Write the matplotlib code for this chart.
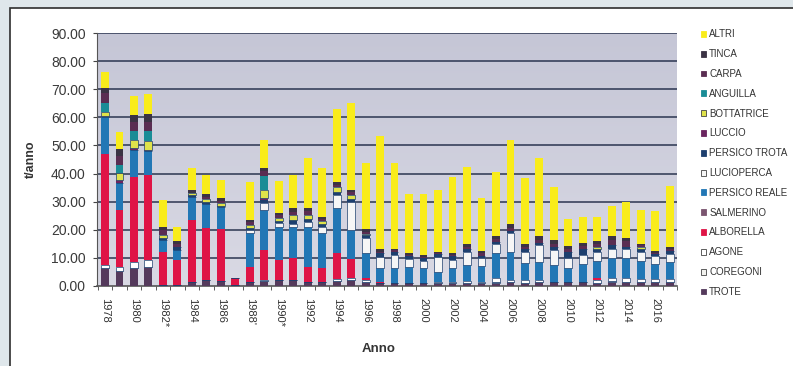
import numpy as np
import matplotlib
matplotlib.use("Agg")
import matplotlib.pyplot as plt
from matplotlib.patches import Patch, Rectangle
from matplotlib.colors import LinearSegmentedColormap

plt.rcParams["font.family"] = ["Liberation Sans", "DejaVu Sans"]

# pescato annuo per specie (t/anno), 1978-2017
years = list(range(1978, 2018))
year_labels = ["1978", "1980", "1982*", "1984", "1986", "1988'", "1990*", "1992",
               "1994", "1996", "1998", "2000", "2002", "2004", "2006", "2008",
               "2010", "2012", "2014", "2016"]

trote = [6.5, 5.5, 6.3, 6.8, 0.5, 0.5, 1.5, 2.0, 1.8, 0.5,
         1.5, 1.8, 2.0, 2.0, 1.5, 1.5, 1.8, 2.0, 1.5, 1.2,
         1.0, 1.2, 1.0, 1.0, 1.0, 1.2, 1.2, 1.0, 1.5, 1.2,
         1.5, 1.3, 1.5, 1.3, 1.2, 1.5, 1.5, 1.3, 1.3, 1.3]
coregoni = [0, 0, 0, 0, 0, 0, 0, 0, 0, 0,
            0, 0, 0, 0, 0, 0, 0, 0, 0, 0,
            0, 0, 0, 0, 0, 0, 0, 0.5, 0, 0,
            0, 0, 0, 0, 0, 0.3, 0, 0, 0, 0]
agone = [1.0, 1.4, 2.3, 2.3, 0, 0, 0, 0, 0, 0,
         0, 0.3, 0, 0, 0, 0, 0.7, 1.0, 0.5, 0,
         0, 0, 0, 0.3, 0.5, 0.6, 0.3, 1.5, 0.6, 0.8,
         0.6, 0.2, 0, 0.2, 0.8, 1.2, 1.5, 1.2, 1.2, 1.2]
alborella = [39.5, 20.0, 30.3, 30.4, 11.7, 8.8, 22.0, 18.8, 18.5, 2.4,
             5.4, 10.7, 7.3, 7.8, 5.4, 4.8, 9.1, 6.6, 1.0, 0.3,
             0, 0, 0, 0, 0, 0, 0, 0, 0, 0,
             0, 0, 0, 0, 1.0, 0, 0, 0, 0, 0]
salmerino = [0, 0, 0, 0, 0, 0, 0, 0, 0, 0,
             0, 0, 0, 0, 0, 0, 0, 0, 0, 0,
             0, 0, 0, 0, 0, 0, 0, 0, 0, 0,
             0, 0, 0, 0, 0, 0, 0, 0, 0, 0]
persico_reale = [13.0, 9.7, 9.5, 8.5, 4.2, 3.5, 8.3, 8.2, 7.7, 0,
                 12.0, 14.2, 11.6, 11.2, 14.2, 12.4, 16.0, 10.3, 8.6, 4.8,
                 5.3, 5.7, 5.5, 3.8, 4.8, 5.7, 5.5, 8.6, 10.1, 6.1,
                 6.5, 6.0, 5.0, 6.5, 6.0, 6.8, 7.0, 6.5, 5.5, 6.0]
lucioperca = [0, 0, 0, 0, 0, 0, 0, 0, 0, 0,
              1.1, 2.6, 1.4, 1.2, 1.6, 2.4, 4.8, 10.1, 5.4, 4.1,
              4.9, 2.6, 2.3, 5.3, 3.0, 4.7, 3.0, 3.2, 6.5, 4.1,
              6.0, 5.3, 3.4, 3.0, 3.0, 3.4, 3.0, 3.0, 2.5, 3.0]
persico_trota = [0, 0, 0, 0, 0.8, 1.0, 0.5, 1.0, 0.6, 0,
                 0.8, 1.0, 0.8, 1.3, 1.2, 0.8, 0.9, 1.0, 1.1, 1.2,
                 1.0, 1.2, 1.0, 1.0, 1.2, 0.8, 0.8, 0.8, 1.0, 0.8,
                 0.8, 1.0, 2.3, 2.0, 1.2, 1.5, 1.0, 1.0, 0.8, 0.8]
luccio = [0.5, 1.0, 0.6, 0.5, 0, 0, 0, 0, 0, 0,
          0, 0.8, 0, 0, 0, 0, 0, 0, 0, 0,
          0, 0, 0, 0, 0, 0, 0, 0, 0, 0,
          0, 0, 0, 0, 0, 0, 0, 0, 0, 0]
bottatrice = [1.5, 2.5, 3.0, 3.0, 1.0, 0, 0.7, 0.8, 0.8, 0,
              1.0, 2.9, 1.2, 1.8, 1.5, 1.2, 2.0, 1.5, 0.5, 0,
              0, 0, 0, 0, 0, 0, 0, 0, 0, 0,
              0, 0, 0, 0, 0.7, 0, 0, 1.0, 0, 0]
anguilla = [3.0, 2.8, 3.0, 3.5, 0, 0, 0, 0, 0, 0,
            0, 5.0, 0, 0, 0, 0, 0, 0, 0, 0,
            0, 0, 0, 0, 0, 0, 0, 0, 0, 0,
            0, 0, 0, 0, 0, 0, 0, 0, 0, 0]
carpa = [3.5, 3.5, 3.5, 3.5, 1.8, 1.2, 0, 1.0, 1.0, 0,
         0.8, 1.5, 0.9, 1.2, 1.2, 0.8, 0.8, 0.8, 0.7, 0.6,
         0.5, 0.5, 0.5, 0.4, 0.6, 0.8, 0.8, 1.0, 1.0, 0.8,
         1.0, 1.2, 1.0, 1.2, 1.0, 1.5, 2.0, 0.6, 0.5, 0.8]
tinca = [2.0, 2.5, 2.4, 2.6, 1.0, 1.0, 1.1, 1.1, 0.8, 0,
         0.8, 1.1, 0.8, 1.2, 1.1, 0.8, 1.0, 0.8, 0.8, 0.8,
         0.6, 0.6, 0.6, 0.4, 0.8, 1.0, 1.0, 1.1, 1.2, 1.0,
         1.3, 1.3, 0.9, 1.1, 1.0, 1.5, 1.2, 0.5, 0.5, 0.8]
altri = [5.8, 5.9, 6.8, 7.2, 9.6, 5.0, 7.8, 6.6, 6.5, 0,
         13.7, 10.1, 11.5, 11.8, 17.7, 17.2, 25.8, 30.9, 23.5, 40.2,
         30.3, 20.8, 21.7, 21.9, 27.0, 27.6, 18.8, 23.0, 30.1, 23.5,
         27.7, 19.0, 9.9, 9.3, 8.7, 10.7, 12.8, 12.1, 14.4, 21.7]

# ordine di impilamento dal basso verso l'alto
series = [
    ("TROTE", trote, "#553a5c"),
    ("COREGONI", coregoni, "#f2f2ee"),
    ("AGONE", agone, "#ffffff"),
    ("ALBORELLA", alborella, "#df1446"),
    ("SALMERINO", salmerino, "#7b5570"),
    ("PERSICO REALE", persico_reale, "#2277b5"),
    ("LUCIOPERCA", lucioperca, "#f6f6f6"),
    ("PERSICO TROTA", persico_trota, "#1d3f6e"),
    ("LUCCIO", luccio, "#6b2560"),
    ("BOTTATRICE", bottatrice, "#dfe24a"),
    ("ANGUILLA", anguilla, "#1a8c96"),
    ("CARPA", carpa, "#5a2d52"),
    ("TINCA", tinca, "#3b3344"),
    ("ALTRI", altri, "#f9ec1a"),
]
light = {"COREGONI", "AGONE", "LUCIOPERCA", "BOTTATRICE"}

fig = plt.figure(figsize=(7.93, 3.66), dpi=100, facecolor="#dfe7eb")
fig.patches.append(Rectangle((0.0126, -0.1), 1.1, 1.078, transform=fig.transFigure,
                             facecolor="white", edgecolor="#2e2e2e", lw=1.2, zorder=-10))

ax = fig.add_axes([0.1223, 0.2186, 0.7314, 0.6912])
ax.set_zorder(2)
ax.set_facecolor("none")

# sfondo sfumato dell'area del grafico
grad = LinearSegmentedColormap.from_list("bg", ["#d9d9e4", "#c5c6d6"])
ax.imshow(np.linspace(0, 1, 256).reshape(-1, 1), cmap=grad, origin="lower",
          extent=[-0.55, 39.48, 0, 90], aspect="auto", zorder=0)

x = np.arange(len(years))
bottom = np.zeros(len(years))
for name, vals, col in series:
    vals = np.array(vals, dtype=float)
    ax.bar(x, vals, width=0.54, bottom=bottom, color=col,
           edgecolor="#1d3f6e" if name in light else "none",
           linewidth=0.5 if name in light else 0, zorder=3)
    bottom += vals

ax.set_xlim(-0.55, 39.48)
ax.set_ylim(0, 90)
ax.set_yticks(np.arange(0, 91, 10))
ax.set_yticklabels([f"{v:.2f}" for v in range(0, 91, 10)])
for v in range(10, 91, 10):
    ax.axhline(v, color="#2b3550", lw=1.1, zorder=1)

ax.set_xticks(x[::2])
ax.set_xticklabels(year_labels, rotation=-90, va="top", ha="center")
ax.set_xticks(np.arange(-0.5, 39.6, 1), minor=True)
ax.tick_params(axis="x", which="major", length=0, pad=9, labelsize=8, labelcolor="#333333")
ax.tick_params(axis="x", which="minor", length=3, color="#444444", direction="out")
ax.tick_params(axis="y", length=3, color="#444444", pad=5, labelsize=10, labelcolor="#3a3a3a")

for side in ["top", "right"]:
    ax.spines[side].set_visible(False)
ax.spines["left"].set_color("#555555")
ax.spines["bottom"].set_color("#555555")
ax.spines["bottom"].set_linewidth(1.2)

ax.set_ylabel("t/anno", fontsize=9, fontweight="bold", color="#333333", labelpad=10)
ax.set_xlabel("Anno", fontsize=9.5, fontweight="bold", color="#333333", labelpad=8)
ax.xaxis.set_label_coords(0.485, -0.225)

handles = [Patch(facecolor=col, edgecolor="#444444" if name in light else col, lw=0.6, label=name)
           for name, vals, col in reversed(series)]
fig.legend(handles=handles, loc="upper left", bbox_to_anchor=(0.884, 0.92),
           frameon=False, fontsize=7, labelcolor="#333333",
           handlelength=0.55, handleheight=0.55, handletextpad=0.3, labelspacing=1.01,
           borderpad=0, borderaxespad=0)

fig.savefig("out.png", dpi=100, facecolor=fig.get_facecolor())
